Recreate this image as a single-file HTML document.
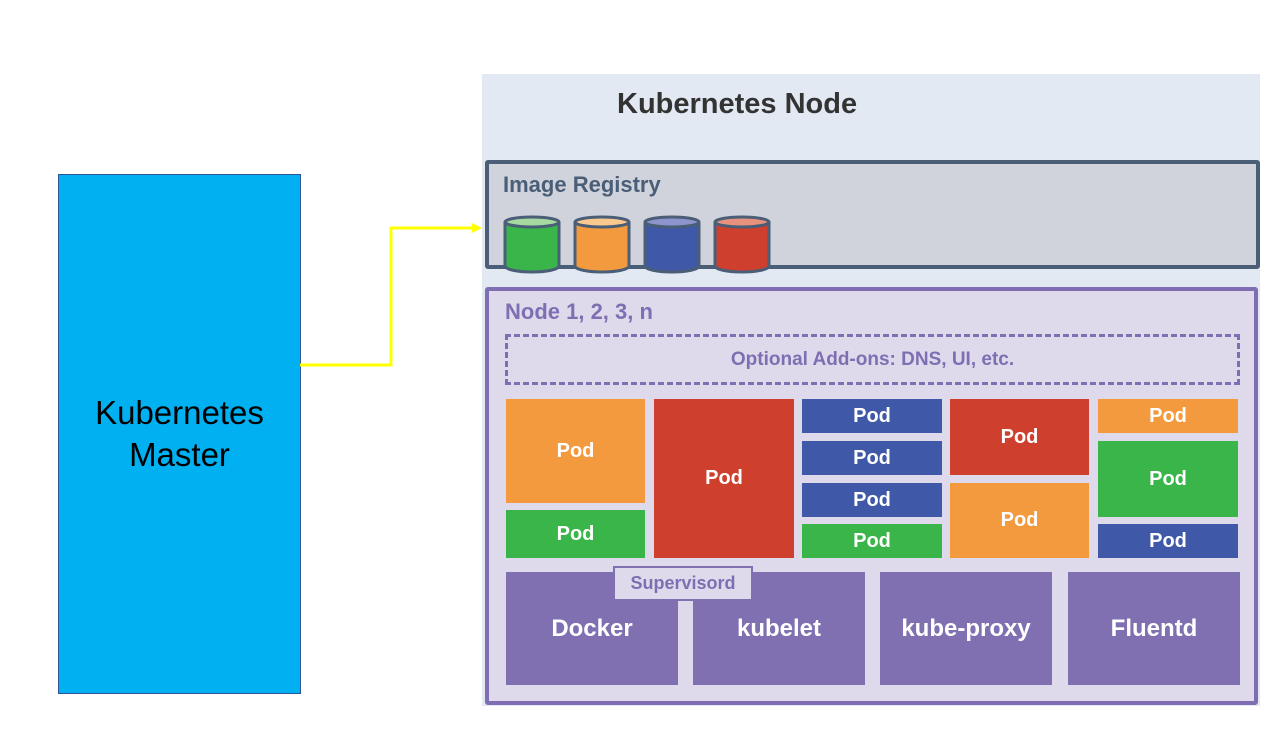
<!DOCTYPE html>
<html><head><meta charset="utf-8"><style>
body{margin:0;width:1288px;height:733px;background:#fff;position:relative;overflow:hidden;font-family:"Liberation Sans",sans-serif}
div{position:absolute;box-sizing:border-box}
.p{color:#fff;font-weight:bold;font-size:20px;display:flex;align-items:center;justify-content:center}
.o{background:#f39a3f}.g{background:#3ab54a}.r{background:#cf3f2e}.b{background:#3f59a8}.u{background:#8070b2;font-size:24px}
</style></head><body>
<div style="left:58px;top:174px;width:243px;height:520px;background:#00b0f0;border:1px solid #2f5597;display:flex;align-items:center;justify-content:center;text-align:center;font-size:33px;line-height:42px;color:#000;font-weight:500">Kubernetes<br>Master</div>
<svg style="position:absolute;left:0;top:0" width="1288" height="733"><polyline points="300,365 391,365 391,228 474,228" fill="none" stroke="#ffff00" stroke-width="3"/><polygon points="482,228 472,223 472,233" fill="#ffff00"/></svg>
<div style="left:482px;top:74px;width:778px;height:632px;background:#e2e9f3"></div>
<div style="left:617px;top:88px;font-size:29px;font-weight:bold;color:#333">Kubernetes Node</div>
<div style="left:485px;top:160px;width:775px;height:109px;background:#d0d3db;border:4px solid #4a5e78;border-radius:3px"></div>
<div style="left:503px;top:172px;font-size:22px;font-weight:bold;color:#4a5e78">Image Registry</div>
<svg style="position:absolute;left:0;top:0" width="1288" height="733">
<g stroke="#4a5e78" stroke-width="3">
<path d="M505,222 V266 A27,6 0 0 0 559,266 V222" fill="#3ab54a"/><ellipse cx="532" cy="222" rx="27" ry="5" fill="#a6d9a0"/>
<path d="M575,222 V266 A27,6 0 0 0 629,266 V222" fill="#f39a3f"/><ellipse cx="602" cy="222" rx="27" ry="5" fill="#f9c98e"/>
<path d="M645,222 V266 A27,6 0 0 0 699,266 V222" fill="#3f59a8"/><ellipse cx="672" cy="222" rx="27" ry="5" fill="#8e95cc"/>
<path d="M715,222 V266 A27,6 0 0 0 769,266 V222" fill="#cf3f2e"/><ellipse cx="742" cy="222" rx="27" ry="5" fill="#e8917e"/>
</g></svg>
<div style="left:485px;top:287px;width:773px;height:418px;background:#dedaec;border:4px solid #7f6fb2;border-radius:3px"></div>
<div style="left:505px;top:299px;font-size:22px;font-weight:bold;color:#7f6fb2">Node 1, 2, 3, n</div>
<div style="left:505px;top:334px;width:735px;height:51px;border:3px dashed #7f6fb2;display:flex;align-items:center;justify-content:center;font-size:19px;font-weight:bold;color:#7f6fb2">Optional Add-ons: DNS, UI, etc.</div>
<div class="p o" style="left:506px;top:399px;width:139px;height:104px">Pod</div>
<div class="p g" style="left:506px;top:510px;width:139px;height:48px">Pod</div>
<div class="p r" style="left:654px;top:399px;width:140px;height:159px">Pod</div>
<div class="p b" style="left:802px;top:399px;width:140px;height:34px">Pod</div>
<div class="p b" style="left:802px;top:441px;width:140px;height:34px">Pod</div>
<div class="p b" style="left:802px;top:483px;width:140px;height:34px">Pod</div>
<div class="p g" style="left:802px;top:524px;width:140px;height:34px">Pod</div>
<div class="p r" style="left:950px;top:399px;width:139px;height:76px">Pod</div>
<div class="p o" style="left:950px;top:483px;width:139px;height:75px">Pod</div>
<div class="p o" style="left:1098px;top:399px;width:140px;height:34px">Pod</div>
<div class="p g" style="left:1098px;top:441px;width:140px;height:76px">Pod</div>
<div class="p b" style="left:1098px;top:524px;width:140px;height:34px">Pod</div>
<div class="p u" style="left:506px;top:572px;width:172px;height:113px">Docker</div>
<div class="p u" style="left:693px;top:572px;width:172px;height:113px">kubelet</div>
<div class="p u" style="left:880px;top:572px;width:172px;height:113px">kube-proxy</div>
<div class="p u" style="left:1068px;top:572px;width:172px;height:113px">Fluentd</div>
<div style="left:613px;top:566px;width:140px;height:35px;background:#dedaec;border:2px solid #8070b2;display:flex;align-items:center;justify-content:center;font-size:18px;font-weight:bold;color:#7f6fb2">Supervisord</div>
</body></html>
